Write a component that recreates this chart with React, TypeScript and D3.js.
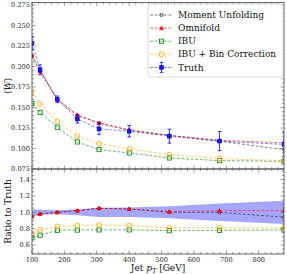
import * as d3 from "d3";

// jet pT bin positions (GeV)
const ptValues = [100, 125, 178, 240, 307, 400, 524, 679, 878];

// <W> per bin, top panel
const truthW = [0.2285, 0.196, 0.16, 0.136, 0.124, 0.121, 0.115, 0.109, 0.105];
const truthErr = [0.008, 0.006, 0.004, 0.005, 0.007, 0.007, 0.0085, 0.0116, 0.015];
const momentW = [0.213, 0.194, 0.16, 0.14, 0.131, 0.122, 0.116, 0.109, 0.0986];
const omnifoldW = [0.214, 0.194, 0.16, 0.141, 0.131, 0.123, 0.116, 0.11, 0.107];
const ibuW = [0.155, 0.144, 0.126, 0.108, 0.0986, 0.0946, 0.0885, 0.0852, 0.0844];
const ibuBcW = [0.1695, 0.1545, 0.133, 0.1148, 0.106, 0.0995, 0.0925, 0.0877, 0.0852];

// ratio to truth, bottom panel
const momentRatio = [0.95, 0.98, 1.0, 1.02, 1.05, 1.04, 1.0, 1.0, 0.94];
const omnifoldRatio = [0.95, 0.98, 1.0, 1.02, 1.05, 1.04, 1.01, 1.02, 1.02];
const ibuRatio = [0.69, 0.72, 0.78, 0.783, 0.785, 0.785, 0.775, 0.78, 0.785];
const ibuBcRatio = [0.745, 0.786, 0.827, 0.84, 0.845, 0.84, 0.808, 0.81, 0.81];

const xTicks = [100, 200, 300, 400, 500, 600, 700, 800];
const topTicks = [0.075, 0.1, 0.125, 0.15, 0.175, 0.2, 0.225, 0.25, 0.275];
const ratioTicks = [0.6, 0.8, 1.0, 1.2, 1.4];

const legendLabels = ["Moment Unfolding", "Omnifold", "IBU", "IBU + Bin Correction", "Truth"];

const W = 287;
const H = 274;
const left = 32;
const right = 284;
const topY0 = 2.5;
const topY1 = 169;
const botY1 = 254;

const font = "DejaVu Serif";
const frameColor = "#555";

type Marker = "circle" | "triangle" | "square" | "diamond" | "fsquare";

const series = [
  { name: "Moment Unfolding", color: "#222", top: momentW, ratio: momentRatio, marker: "circle" as Marker },
  { name: "Omnifold", color: "red", top: omnifoldW, ratio: omnifoldRatio, marker: "triangle" as Marker },
  { name: "IBU", color: "green", top: ibuW, ratio: ibuRatio, marker: "square" as Marker },
  { name: "IBU + Bin Correction", color: "orange", top: ibuBcW, ratio: ibuBcRatio, marker: "diamond" as Marker },
];

function MarkerShape({ kind, x, y, color }: { kind: Marker; x: number; y: number; color: string }) {
  if (kind === "circle")
    return <circle cx={x} cy={y} r={1.6} fill="none" stroke={color} strokeWidth={0.7} />;
  if (kind === "triangle") {
    const s = 2.1;
    return (
      <path
        d={`M${x},${y - s}L${x + s},${y + s * 0.8}L${x - s},${y + s * 0.8}Z`}
        fill={color}
        stroke={color}
        strokeWidth={0.4}
      />
    );
  }
  if (kind === "square")
    return <rect x={x - 2.1} y={y - 2.1} width={4.2} height={4.2} fill="none" stroke={color} strokeWidth={0.8} />;
  if (kind === "diamond")
    return <circle cx={x} cy={y} r={2.4} fill="none" stroke={color} strokeWidth={0.8} />;
  return <rect x={x - 1.8} y={y - 1.8} width={3.6} height={3.6} fill={color} />;
}

function Ticks({
  scale,
  major,
  minor,
  orient,
  pos0,
  pos1,
}: {
  scale: d3.ScaleLinear<number, number>;
  major: number[];
  minor: number[];
  orient: "x" | "y";
  pos0: number;
  pos1: number;
}) {
  const lines: JSX.Element[] = [];
  const add = (v: number, len: number, k: string) => {
    const p = scale(v);
    if (orient === "x") {
      lines.push(<line key={k + "a"} x1={p} x2={p} y1={pos1} y2={pos1 - len} />);
      lines.push(<line key={k + "b"} x1={p} x2={p} y1={pos0} y2={pos0 + len} />);
    } else {
      lines.push(<line key={k + "a"} x1={pos0} x2={pos0 + len} y1={p} y2={p} />);
      lines.push(<line key={k + "b"} x1={pos1} x2={pos1 - len} y1={p} y2={p} />);
    }
  };
  major.forEach((v, i) => add(v, 3.5, "M" + i));
  minor.forEach((v, i) => add(v, 2, "m" + i));
  return (
    <g stroke={frameColor} strokeWidth={0.6}>
      {lines}
    </g>
  );
}

export default function App() {
  const x = d3.scaleLinear([100, 878], [left, right]);
  const yTop = d3.scaleLinear([0.075, 0.278], [topY1, topY0]);
  const yBot = d3.scaleLinear([0.49, 1.53], [botY1, topY1]);

  const xMinor = d3.range(120, 878, 20).filter((v) => v % 100 !== 0);
  const topMinor = d3.range(0.08, 0.278, 0.005).filter((v) => Math.abs(Math.round(v / 0.025) * 0.025 - v) > 1e-6);
  const botMinor = d3.range(0.5, 1.53, 0.05).filter((v) => Math.abs(Math.round(v / 0.2) * 0.2 - v) > 1e-6);

  const lineTop = (vals: number[]) =>
    d3.line<number>((_, i) => x(ptValues[i]), (d) => yTop(d))(vals) ?? "";
  const lineBot = (vals: number[]) =>
    d3.line<number>((_, i) => x(ptValues[i]), (d) => yBot(d))(vals) ?? "";

  const band =
    d3
      .area<number>()
      .x((_, i) => x(ptValues[i]))
      .y0((d, i) => yBot(1 - truthErr[i] / truthW[i]))
      .y1((d, i) => yBot(1 + truthErr[i] / truthW[i]))(truthW) ?? "";

  const dash = "3,1.6";

  return (
    <svg width={W} height={H} style={{ position: "absolute", left: 0, top: 0 }}>
      <rect width={W} height={H} fill="#fff" />
      <defs>
        <clipPath id="clipTop">
          <rect x={left} y={topY0} width={right - left} height={topY1 - topY0} />
        </clipPath>
        <clipPath id="clipBot">
          <rect x={left} y={topY1} width={right - left} height={botY1 - topY1} />
        </clipPath>
      </defs>

      {/* top panel data */}
      <g clipPath="url(#clipTop)">
        {series.map((s) => (
          <g key={s.name}>
            <path d={lineTop(s.top)} fill="none" stroke={s.color} strokeWidth={0.8} strokeDasharray={dash} opacity={0.7} />
            {s.top.map((v, i) => (
              <MarkerShape key={i} kind={s.marker} x={x(ptValues[i])} y={yTop(v)} color={s.color} />
            ))}
          </g>
        ))}
        <path d={lineTop(truthW)} fill="none" stroke="blue" strokeWidth={0.8} strokeDasharray={dash} opacity={0.6} />
        {truthW.map((v, i) => {
          const px = x(ptValues[i]);
          const y0 = yTop(v - truthErr[i]);
          const y1 = yTop(v + truthErr[i]);
          return (
            <g key={i} stroke="blue" strokeWidth={0.8}>
              <line x1={px} x2={px} y1={y0} y2={y1} />
              <line x1={px - 1.8} x2={px + 1.8} y1={y0} y2={y0} />
              <line x1={px - 1.8} x2={px + 1.8} y1={y1} y2={y1} />
              <MarkerShape kind="fsquare" x={px} y={yTop(v)} color="#1a1acc" />
            </g>
          );
        })}
      </g>

      {/* ratio panel data */}
      <g clipPath="url(#clipBot)">
        <path d={band} fill="blue" opacity={0.35} />
        {series.map((s) => (
          <g key={s.name}>
            <path d={lineBot(s.ratio)} fill="none" stroke={s.color} strokeWidth={0.8} strokeDasharray={dash} opacity={0.7} />
            {s.ratio.map((v, i) => (
              <MarkerShape key={i} kind={s.marker} x={x(ptValues[i])} y={yBot(v)} color={s.color} />
            ))}
          </g>
        ))}
      </g>

      {/* ticks */}
      <Ticks scale={x} major={xTicks} minor={xMinor} orient="x" pos0={topY0} pos1={topY1} />
      <Ticks scale={x} major={xTicks} minor={xMinor} orient="x" pos0={topY1} pos1={botY1} />
      <Ticks scale={yTop} major={topTicks} minor={topMinor} orient="y" pos0={left} pos1={right} />
      <Ticks scale={yBot} major={ratioTicks} minor={botMinor} orient="y" pos0={left} pos1={right} />

      {/* frames */}
      <rect x={left} y={topY0} width={right - left} height={topY1 - topY0} fill="none" stroke={frameColor} strokeWidth={0.9} />
      <rect x={left} y={topY1} width={right - left} height={botY1 - topY1} fill="none" stroke={frameColor} strokeWidth={0.9} />

      {/* tick labels */}
      <g fontFamily={font} fontSize={6.6} fill="#222">
        {topTicks.map((t) => (
          <text key={t} x={left - 2} y={yTop(t)} dy="0.35em" textAnchor="end">
            {t.toFixed(3)}
          </text>
        ))}
        {ratioTicks.map((t) => (
          <text key={t} x={left - 2} y={yBot(t)} dy="0.35em" textAnchor="end">
            {t.toFixed(1)}
          </text>
        ))}
        {xTicks.map((t) => (
          <text key={t} x={x(t)} y={botY1 + 8} textAnchor="middle">
            {t}
          </text>
        ))}
      </g>

      {/* axis labels */}
      <g fontFamily={font} fontSize={9} fill="#111">
        <text transform={`translate(11,${(topY0 + topY1) / 2}) rotate(-90)`} textAnchor="middle">
          ⟨<tspan fontStyle="italic">W</tspan>⟩
        </text>
        <text transform={`translate(11,${(topY1 + botY1) / 2}) rotate(-90)`} textAnchor="middle">
          Ratio to Truth
        </text>
        <text x={(left + right) / 2} y={271} textAnchor="middle">
          Jet <tspan fontStyle="italic">p</tspan>
          <tspan fontStyle="italic" fontSize={6.5} dy={2}>T</tspan>
          <tspan dy={-2}> [GeV]</tspan>
        </text>
      </g>

      {/* legend */}
      <g>
        <rect x={148} y={4} width={135} height={73} rx={2} fill="#fff" stroke="#ccc" strokeWidth={0.8} opacity={0.9} />
        {legendLabels.map((label, i) => {
          const ly = 15 + i * 13.1;
          const s = series.find((q) => q.name === label);
          const color = s ? s.color : "blue";
          return (
            <g key={label}>
              <line x1={150} x2={173} y1={ly} y2={ly} stroke={color} strokeWidth={0.8} strokeDasharray={dash} opacity={0.7} />
              {s ? (
                <MarkerShape kind={s.marker} x={161.5} y={ly} color={color} />
              ) : (
                <g stroke="blue" strokeWidth={0.8}>
                  <line x1={161.5} x2={161.5} y1={ly - 5} y2={ly + 5} />
                  <line x1={159.7} x2={163.3} y1={ly - 5} y2={ly - 5} />
                  <line x1={159.7} x2={163.3} y1={ly + 5} y2={ly + 5} />
                  <MarkerShape kind="fsquare" x={161.5} y={ly} color="#1a1acc" />
                </g>
              )}
              <text x={178} y={ly} dy="0.35em" fontFamily={font} fontSize={9} fill="#111">
                {label}
              </text>
            </g>
          );
        })}
      </g>
    </svg>
  );
}
